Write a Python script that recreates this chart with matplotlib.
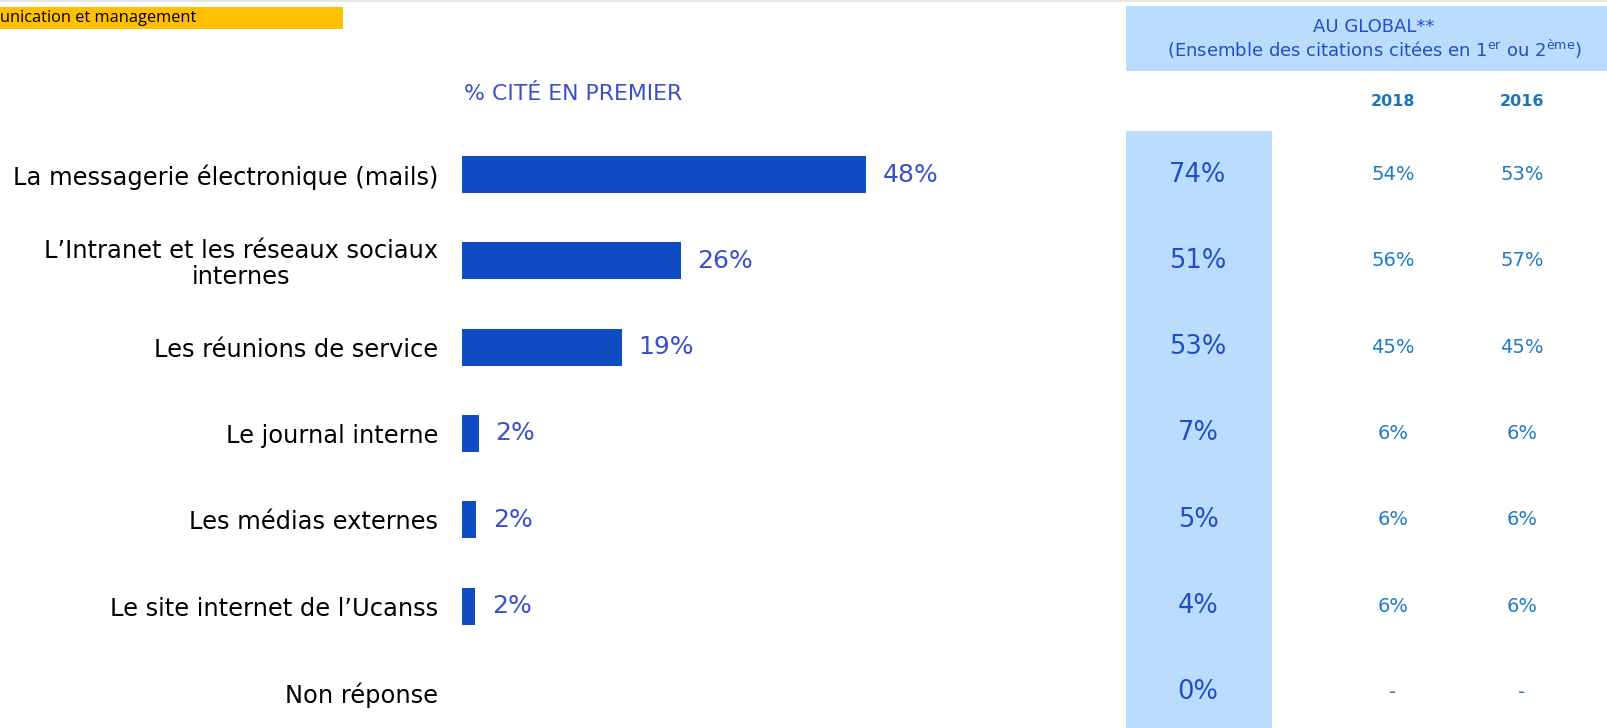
import numpy as np
import matplotlib
matplotlib.use("Agg")
import matplotlib.pyplot as plt
from matplotlib.patches import Rectangle

#--------------------------------------------------------------------------
#                    Data
#--------------------------------------------------------------------------
categories = ["La messagerie électronique (mails)",
              "L\u2019Intranet et les réseaux sociaux\ninternes",
              "Les réunions de service",
              "Le journal interne",
              "Les médias externes",
              "Le site internet de l\u2019Ucanss",
              "Non réponse"]
first_cited = [48, 26, 19, 2.0, 1.7, 1.6, None]     # % cité en premier
global_total = ["74%", "51%", "53%", "7%", "5%", "4%", "0%"]
global_2018 = ["54%", "56%", "45%", "6%", "6%", "6%", "-"]
global_2016 = ["53%", "57%", "45%", "6%", "6%", "6%", "-"]
year_labels = ["2018", "2016"]

#--------------------------------------------------------------------------
#                    Figure & layout (pixel based)
#--------------------------------------------------------------------------
W, H = 1608, 728
fig = plt.figure(figsize=(W / 100, H / 100), dpi=100)

row0, row_step = 174.5, 86.3          # centre of first row, row spacing (px)
ax_top = 131.35
y_top = -0.5
y_bot = y_top + (H - ax_top) / row_step

bar_x0, px_per_pct = 462, 8.42
bar_x1 = 1100
ax = fig.add_axes([bar_x0 / W, 0, (bar_x1 - bar_x0) / W, (H - ax_top) / H])
ax.set_xlim(0, (bar_x1 - bar_x0) / px_per_pct)
ax.set_ylim(y_bot, y_top)

bar_col = "#0F4BC2"
lab_col = "#3A4FCF"
ypos = np.arange(len(categories))
for y, v in zip(ypos, first_cited):
    if v is None:
        continue
    ax.barh(y, v, height=37 / row_step, color=bar_col)
    ax.annotate(f"{round(v)}%", (v, y), xytext=(12.0, 0), textcoords="offset points",
                va="center", ha="left", fontsize=18, color=lab_col)

ax.set_yticks(ypos)
ax.set_yticklabels(categories, fontsize=17.4)
for t in ax.get_yticklabels():
    t.set_multialignment("center")
    t.set_linespacing(1.1)
ax.tick_params(axis="y", length=0, pad=17)
ax.set_xticks([])
for s in ax.spines.values():
    s.set_visible(False)

fig.text(464 / W, 1 - 94 / H, "% CITÉ EN PREMIER", fontsize=15.8, color=lab_col,
         ha="left", va="center")

#--------------------------------------------------------------------------
#                    Right hand table
#--------------------------------------------------------------------------
tab_x0 = 1126
ax2 = fig.add_axes([tab_x0 / W, 0, (W - tab_x0) / W, (H - ax_top) / H])
ax2.set_xlim(tab_x0, W)
ax2.set_ylim(y_bot, y_top)
ax2.axis("off")
ax2.axvspan(tab_x0, 1272, color="#BBDCFE", lw=0)

col_big, col_2018, col_2016 = 1198, 1393, 1522
for y, a, b, c in zip(ypos, global_total, global_2018, global_2016):
    ax2.text(col_big, y, a, ha="center", va="center", fontsize=18.5, color="#1F4FC8")
    ax2.text(col_2018, y, b, ha="center", va="center", fontsize=14, color="#1F7BC8")
    ax2.text(col_2016, y, c, ha="center", va="center", fontsize=14, color="#1F7BC8")

for xc, yl in zip([col_2018, col_2016], year_labels):
    fig.text(xc / W, 1 - 102 / H, yl, ha="center", va="center", fontsize=11.5,
             fontweight="bold", color="#1C75BC")

# header box
fig.patches.append(Rectangle((tab_x0 / W, 1 - 71 / H), (W - tab_x0) / W, 65 / H,
                             transform=fig.transFigure, color="#BBDCFE", lw=0))
fig.text(1374 / W, 1 - 27 / H, "AU GLOBAL**", ha="center", va="center",
         fontsize=13, color="#1F4FC8")
fig.text(1374 / W, 1 - 49 / H,
         r"(Ensemble des citations citées en 1$^{\mathrm{er}}$ ou 2$^{\mathrm{ème}}$)",
         ha="center", va="center", fontsize=13, color="#1F4FC8")

# top banner
fig.patches.append(Rectangle((0, 1 - 29 / H), 343 / W, 22 / H,
                             transform=fig.transFigure, color="#FFC000", lw=0))
fig.text(0, 1 - 18.5 / H, "unication et management", ha="left", va="center",
         fontsize=11.8, color="black", family="Open Sans")
fig.lines.append(plt.Line2D([0, 1], [1 - 1 / H, 1 - 1 / H], transform=fig.transFigure,
                            color="#E6E6E6", lw=1.5))

fig.savefig("out.png", dpi=100)
